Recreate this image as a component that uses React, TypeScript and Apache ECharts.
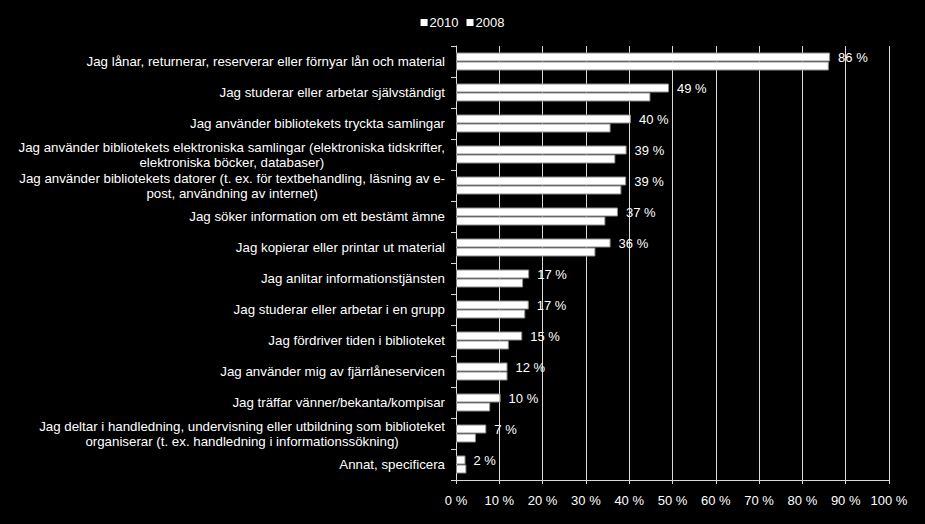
import React, { useEffect, useRef } from "react";
import * as echarts from "echarts";

const categories: string[] = [
  "Jag lånar, returnerar, reserverar eller förnyar lån och material",
  "Jag studerar eller arbetar självständigt",
  "Jag använder bibliotekets tryckta samlingar",
  "Jag använder bibliotekets elektroniska samlingar (elektroniska tidskrifter,\nelektroniska böcker, databaser)",
  "Jag använder bibliotekets datorer (t. ex. för textbehandling, läsning av e-\npost, användning av internet)",
  "Jag söker information om ett bestämt ämne",
  "Jag kopierar eller printar ut material",
  "Jag anlitar informationstjänsten",
  "Jag studerar eller arbetar i en grupp",
  "Jag fördriver tiden i biblioteket",
  "Jag använder mig av fjärrlåneservicen",
  "Jag träffar vänner/bekanta/kompisar",
  "Jag deltar i handledning, undervisning eller utbildning som biblioteket\norganiserar (t. ex. handledning i informationssökning)",
  "Annat, specificera",
];

const values2010: number[] = [86.4, 49.2, 40.4, 39.4, 39.3, 37.4, 35.7, 16.9, 16.8, 15.3, 11.9, 10.3, 7.0, 2.2];
const values2008: number[] = [86.1, 44.9, 35.7, 36.8, 38.2, 34.5, 32.2, 15.5, 16.0, 12.2, 11.9, 7.9, 4.6, 2.4];

const seriesNames: string[] = ["2010", "2008"];

export default function App() {
  const ref = useRef<HTMLDivElement>(null);

  useEffect(() => {
    document.body.style.margin = "0";
    document.body.style.background = "#000";
    const chart = echarts.init(ref.current!, null, { renderer: "svg" });
    const font = "Liberation Sans, Arial, sans-serif";
    const fs = 13;
    const yfs = 13.3;
    const barStyle = { color: "#ffffff", borderColor: "#8c8c8c", borderWidth: 1 };
    chart.setOption({
      animation: false,
      backgroundColor: "#000000",
      textStyle: { fontFamily: font },
      legend: {
        top: 11,
        left: "center",
        itemWidth: 7,
        itemHeight: 7,
        itemGap: 8,
        icon: "rect",
        itemStyle: { borderWidth: 0, color: "#ffffff" },
        textStyle: { color: "#ffffff", fontSize: fs, fontFamily: font, padding: [0, 0, 0, -3] },
        data: seriesNames,
      },
      grid: { left: 456, right: 36, top: 46, bottom: 44, containLabel: false },
      xAxis: {
        type: "value",
        min: 0,
        max: 100,
        interval: 10,
        axisLine: { show: true, lineStyle: { color: "#d9d9d9", width: 1 } },
        axisTick: { show: true, length: 4, lineStyle: { color: "#d9d9d9" } },
        splitLine: { show: true, lineStyle: { color: "#d9d9d9", width: 1 } },
        axisLabel: {
          color: "#ffffff",
          fontSize: fs,
          fontFamily: font,
          margin: 14,
          formatter: (v: number) => `${v} %`,
        },
      },
      yAxis: {
        type: "category",
        inverse: true,
        data: categories,
        axisLine: { show: true, lineStyle: { color: "#d9d9d9", width: 1 } },
        axisTick: { show: true, length: 5, alignWithLabel: false, lineStyle: { color: "#d9d9d9" } },
        axisLabel: {
          color: "#ffffff",
          fontSize: yfs,
          fontFamily: font,
          margin: 11,
          lineHeight: 15,
          formatter: (v: string) =>
            v
              .split("\n")
              .map((line) => `{c|${line}}`)
              .join("\n"),
          rich: {
            c: { align: "center", color: "#ffffff", fontSize: yfs, fontFamily: font, lineHeight: 15 },
          },
        },
      },
      series: [
        {
          name: seriesNames[0],
          type: "bar",
          data: values2010,
          barWidth: 9,
          barGap: "0%",
          itemStyle: barStyle,
          label: {
            show: true,
            position: "right",
            distance: 8,
            color: "#ffffff",
            textBorderWidth: 0,
            fontSize: fs,
            fontFamily: font,
            formatter: (p: any) => `${Math.round(p.value)} %`,
          },
        },
        {
          name: seriesNames[1],
          type: "bar",
          data: values2008,
          barWidth: 9,
          barGap: "0%",
          itemStyle: barStyle,
        },
      ],
    });
    return () => chart.dispose();
  }, []);

  return <div ref={ref} style={{ width: 925, height: 524 }} />;
}
